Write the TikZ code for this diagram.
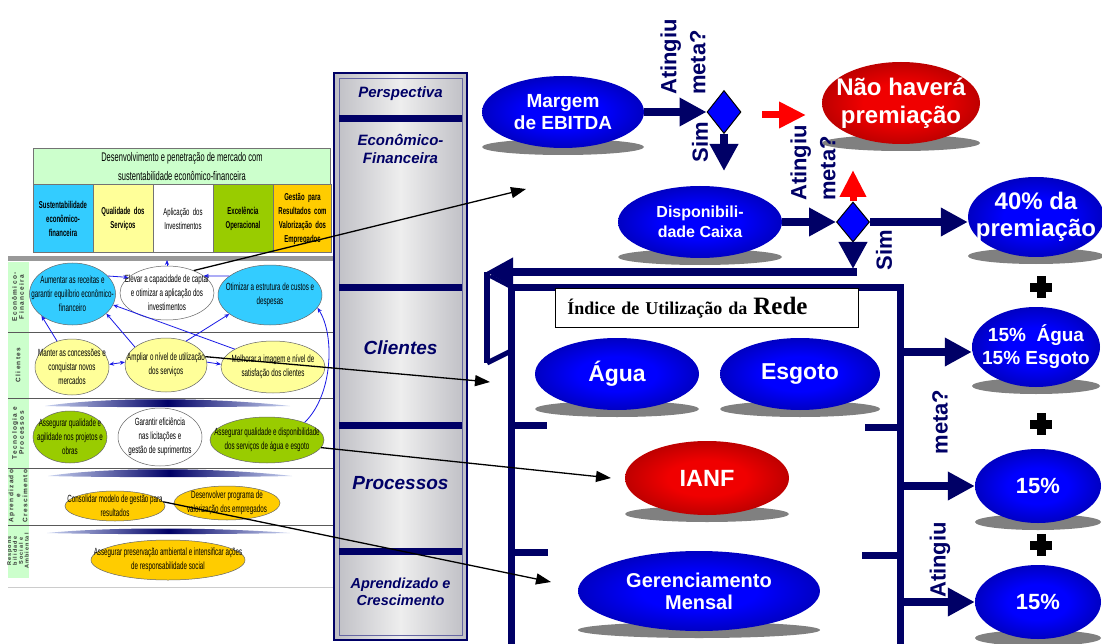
\documentclass[tikz,border=0pt]{standalone}
\usepackage{fontspec}
\setmainfont{Liberation Sans}
\newfontfamily\narrowsans{Liberation Sans}[FakeStretch=0.6]
\newfontfamily\spacedsans{Liberation Sans}[LetterSpace=20]
\newfontfamily\titleserif{Liberation Serif}
\usetikzlibrary{shapes.geometric,arrows.meta}

\definecolor{navy}{RGB}{0,0,102}
\definecolor{orbcore}{RGB}{0,0,255}
\definecolor{orbrim}{RGB}{0,0,80}
\definecolor{flamecore}{RGB}{240,0,0}
\definecolor{flamerim}{RGB}{95,0,0}
\definecolor{decblue}{RGB}{0,0,255}
\definecolor{cyanfill}{RGB}{51,204,255}
\definecolor{paleyellow}{RGB}{255,255,153}
\definecolor{leafgreen}{RGB}{153,204,0}
\definecolor{amber}{RGB}{255,204,0}
\definecolor{mint}{RGB}{204,255,204}
\definecolor{linkblue}{RGB}{25,25,230}
\definecolor{colface}{RGB}{238,238,238}
\definecolor{colshade}{RGB}{190,190,196}
\definecolor{wedgeend}{RGB}{200,210,240}

\pgfdeclareradialshading{blueglow}{\pgfpoint{0bp}{0bp}}{color(0bp)=(orbcore); color(12bp)=(orbcore); color(50bp)=(orbrim)}
\pgfdeclareradialshading{redglow}{\pgfpoint{0bp}{0bp}}{color(0bp)=(flamecore); color(12bp)=(flamecore); color(50bp)=(flamerim)}

% strategy-map objective: name, x, y, rx, ry, fill, text
\newcommand\goal[7]{%
  \node[goalshape, fill=#6, minimum width=2*#4, minimum height=2*#5] (#1) at (#2,#3) {};
  \node[goaltext] (#1-t) at (#1) {#7};}
% shaded indicator with floor shadow: name, x, y, rx, ry, style, font, text
\newcommand\orb[8]{%
  \fill[floorshade] (#2,#3+#5-1) ellipse [x radius=#4, y radius=8];
  \node[#6, minimum width=2*#4, minimum height=2*#5] (#1) at (#2,#3) {};
  \node[orbtext, font={\bfseries#7}] (#1-t) at (#1) {#8};}
% tapered band above a row: y, left x, right x, rise
\newcommand\wedgebar[4]{%
  \shade[left color=wedgeend, right color=wedgeend, middle color=navy]
    (#2,#1) .. controls (#2+60,#1-#4) and (#3-80,#1-#4) .. (#3,#1)
    .. controls (#3-80,#1+1.5) and (#2+60,#1+1.5) .. cycle;}
% bold plus sign
\newcommand\plusmark[2]{%
  \fill[black] (#1-11,#2-4.5) rectangle (#1+11,#2+4.5);
  \fill[black] (#1-4.5,#2-11) rectangle (#1+4.5,#2+11);}

\begin{document}
\begin{tikzpicture}[x=1pt,y=-1pt,
  goalshape/.style={ellipse, draw=black!60, line width=0.5pt, inner sep=0pt},
  goaltext/.style={font=\narrowsans\fontsize{10.4}{14}\selectfont, align=center, inner sep=0pt},
  mapbox/.style={draw=black!55, line width=0.5pt, inner xsep=2pt, inner ysep=0pt, align=center,
    font=\narrowsans\bfseries\fontsize{10}{14}\selectfont, minimum height=68, text width=56},
  rowlabel/.style={rotate=90, font=\spacedsans\bfseries\fontsize{6.5}{7}\selectfont, align=center,
    text=black!80, inner sep=0pt},
  link/.style={draw=linkblue, line width=0.8pt, >={Stealth[length=5pt,width=4pt]}, ->},
  linkboth/.style={link, <->},
  pointer/.style={draw=black, line width=1.3pt, -{Triangle[length=15pt,width=11pt]}},
  flowarrow/.style={draw=navy, line width=8pt, -{Triangle[length=27pt,width=27pt]}},
  nogoarrow/.style={draw=red, line width=7pt, -{Triangle[length=27pt,width=25pt]}},
  blueorb/.style={ellipse, inner sep=0pt, shading=blueglow},
  redorb/.style={ellipse, inner sep=0pt, shading=redglow},
  orbtext/.style={text=white, align=center, inner sep=0pt},
  decision/.style={diamond, draw=black, line width=1pt, fill=decblue, inner sep=0pt,
    minimum width=34, minimum height=43},
  question/.style={rotate=90, text=navy, font=\bfseries\fontsize{22}{29}\selectfont, align=left, inner sep=0pt},
  persp/.style={text=navy, align=center, inner sep=0pt},
  floorshade/.style={fill=black!50},
  frameline/.style={draw=navy, line width=7pt},
]
\useasboundingbox (0,0) rectangle (1102,644);
\fill[white] (0,0) rectangle (1102,644);

% ---------------- strategy map ----------------
\node[draw=black!55, line width=0.5pt, fill=mint, minimum width=297, minimum height=37, inner sep=0pt,
  font=\narrowsans\fontsize{12.5}{19}\selectfont, align=center] (mapheader) at (182,166.5)
  {Desenvolvimento e penetração de mercado com\\sustentabilidade econômico-financeira};
\node[mapbox, fill=cyanfill] (th1) at (63,218.5) {Sustentabilidade\\econômico-\\financeira};
\node[mapbox, fill=paleyellow] (th2) at (123,218.5) {Qualidade dos\\Serviços};
\node[mapbox, fill=white, font=\narrowsans\fontsize{10}{14}\selectfont] (th3) at (183,218.5) {Aplicação dos\\Investimentos};
\node[mapbox, fill=leafgreen] (th4) at (243,218.5) {Excelência\\Operacional};
\node[mapbox, fill=amber, text width=54] (th5) at (302.5,218.5) {Gestão para\\Resultados com\\Valorização dos\\Empregados};

\fill[black!40] (8,256) rectangle (333,261);
\fill[mint] (8,262) rectangle (29,578);
\foreach \yy in {332,398,468,525}
  \draw[black!65, line width=0.7pt] (8,\yy) -- (333,\yy);
\draw[black!20, line width=0.7pt] (8,587) -- (333,587);

\node[rowlabel] (rl1) at (18,297) {Econômico-\\Financeira};
\node[rowlabel] (rl2) at (18,365) {Clientes};
\node[rowlabel] (rl3) at (18,433) {Tecnologia e\\Processos};
\node[rowlabel] (rl4) at (18,496) {Aprendizado\\e\\Crescimento};
\node[rowlabel, font=\spacedsans\bfseries\fontsize{5.5}{5.8}\selectfont] (rl5) at (18,551)
  {Respons\\bilidade\\Social e\\Ambiental};

\wedgebar{406}{45}{290}{9}
\wedgebar{476}{48}{292}{9}
\wedgebar{533}{47}{290}{6}

\goal{e1}{72.5}{294}{43}{31}{cyanfill}{Aumentar as receitas e\\garantir equilíbrio econômico-\\financeiro}
\goal{e2}{167}{293}{47}{27}{white}{Elevar a capacidade de captar\\e otimizar a aplicação dos\\investimentos}
\goal{e3}{270}{295}{52}{30}{cyanfill}{Otimizar a estrutura de custos e\\despesas}
\goal{e4}{72}{367}{37}{28}{paleyellow}{Manter as concessões e\\conquistar novos\\mercados}
\goal{e5}{166}{365}{41}{27}{paleyellow}{Ampliar o nível de utilização\\dos serviços}
\goal{e6}{273}{367}{52}{26}{paleyellow}{Melhorar a imagem e nível de\\satisfação dos clientes}
\goal{e7}{70}{437}{37}{26}{leafgreen}{Assegurar qualidade e\\agilidade nos projetos e\\obras}
\goal{e8}{160}{437}{42}{29}{white}{Garantir eficiência\\nas licitações e\\gestão de suprimentos}
\goal{e9}{267}{440}{57}{23}{leafgreen}{Assegurar qualidade e disponibilidade\\dos serviços de água e esgoto}
\goal{e10}{115}{506}{50}{15}{amber}{Consolidar modelo de gestão para\\resultados}
\goal{e11}{227}{503}{53}{17}{amber}{Desenvolver programa de\\valorização dos empregados}
\goal{e12}{168}{560}{77}{20}{amber}{Assegurar preservação ambiental e intensificar ações\\de responsabilidade social}

\coordinate (bandtop) at (167,260);
\draw[link] (e1.27) -- (e2.158);
\draw[link] (e3.155) -- (e2.25);
\draw[link] (e2.north) -- (bandtop);
\draw[link] (e4.120) -- (e1.215);
\draw[link] (e5.150) -- (e1.330);
\draw[link] (e6.155) -- (e1.345);
\draw[link] (e5.50) -- (e3.205);
\draw[linkboth] (e4.4) -- (e5.176);
\draw[link] (e5.4) -- (e6.177);
\draw[link] (e9.25) .. controls (333,395) and (335,335) .. (e3.-15);

% ---------------- perspective column ----------------
\shade[left color=colshade, right color=colshade, middle color=colface] (334,73) rectangle (467,640);
\draw[navy, line width=1.5pt] (334,73) rectangle (467,640);
\draw[navy!60, line width=0.8pt] (339,78) rectangle (462,635);
\foreach \yy in {119,287,425,551}
  \fill[navy] (339,\yy-3.5) rectangle (462,\yy+3.5);
\node[persp, font=\bfseries\itshape\fontsize{15}{18}\selectfont] (pPersp) at (400.5,94) {Perspectiva};
\node[persp, font=\bfseries\itshape\fontsize{15}{18}\selectfont] (pEco) at (400.5,149) {Econômico-\\Financeira};
\node[persp, font=\bfseries\itshape\fontsize{19}{22}\selectfont] (pCli) at (400.5,348) {Clientes};
\node[persp, font=\bfseries\itshape\fontsize{19}{22}\selectfont] (pProc) at (400.5,483) {Processos};
\node[persp, font=\bfseries\itshape\fontsize{14.5}{17.5}\selectfont] (pApr) at (400.5,592) {Aprendizado e\\Crescimento};

% ---------------- award flow ----------------
\orb{margem}{563}{112}{81}{36}{blueorb}{\fontsize{19}{22}\selectfont}{Margem\\de EBITDA}
\orb{nopay}{901}{103}{79}{41}{redorb}{\fontsize{24}{28}\selectfont}{Não haverá\\premiação}
\orb{caixa}{700}{222}{82}{36}{blueorb}{\fontsize{16}{20}\selectfont}{Disponibili-\\dade Caixa}
\orb{forty}{1036}{217}{68}{40}{blueorb}{\fontsize{24}{27}\selectfont}{40\% da\\premiação}
\orb{aguaesg}{1036}{347}{64}{40}{blueorb}{\fontsize{19}{23}\selectfont}{15\%~~Água\\15\% Esgoto}
\orb{midfifteen}{1038}{486}{63}{37}{blueorb}{\fontsize{22}{24}\selectfont}{15\%}
\orb{lowfifteen}{1038}{602}{63}{37}{blueorb}{\fontsize{22}{24}\selectfont}{15\%}

\node[decision] (d1) at (724,112) {};
\node[decision, minimum width=33, minimum height=40] (d2) at (853,222) {};

\node[question] (q1) at (683,57) {Atingiu\\meta?};
\node[question] (q2) at (813,163) {Atingiu\\meta?};
\node[question] (sim1) at (700,142) {Sim};
\node[question] (sim2) at (884,250) {Sim};

\coordinate (d1low) at (724,171);
\coordinate (redA) at (762,115);
\coordinate (redB) at (806,115);
\coordinate (redUp) at (853,170);
\coordinate (d2low) at (853,269);
\coordinate (backR) at (857,272);
\coordinate (backL) at (486,272);

\draw[flowarrow] (margem.east) -- (d1.west);
\draw[flowarrow] (d1.south) -- (d1low);
\draw[nogoarrow] (redA) -- (redB);
\draw[nogoarrow] (d2.north) -- (redUp);
\draw[flowarrow] (caixa.east) -- (d2.west);
\draw[flowarrow] (d2.east) -- (d2.east -| forty.west);
\draw[flowarrow] (backR) -- (backL);
\draw[flowarrow] (d2.south) -- (d2low);

% return bracket and network-usage frame
\draw[navy, line width=6pt] (487,272) -- (487,363);
\draw[navy, line width=5pt] (487,363) -- (511,351);
\draw[navy, line width=4pt] (490,276) -- (511,287);
\draw[frameline, line join=miter] (511,644) -- (511,287) -- (900,287) -- (900,644);
\draw[frameline] (511,425) -- (547,425);
\draw[frameline] (511,552) -- (548,552);
\draw[frameline] (865,427) -- (900,427);
\draw[frameline] (862,555) -- (900,555);

\node[draw=black, line width=0.8pt, fill=white, anchor=west, text width=279, inner xsep=12pt, inner ysep=0pt,
  minimum height=39, align=left, font=\titleserif\bfseries\fontsize{18}{20}\selectfont] (ixbox) at (555,307.5)
  {Índice de Utilização da {\fontsize{25}{25}\selectfont Rede}};

\orb{agua}{617}{374}{82}{36}{blueorb}{\fontsize{23}{26}\selectfont}{Água}
\orb{esgoto}{800}{374}{80}{36}{blueorb}{\fontsize{23}{26}\selectfont}{Esgoto}
\orb{ianf}{707}{478}{82}{37}{redorb}{\fontsize{23.5}{26}\selectfont}{IANF}
\orb{gerencia}{699}{591}{121}{40}{blueorb}{\fontsize{20}{22}\selectfont}{Gerenciamento\\Mensal}

\coordinate (out1) at (900,352);
\coordinate (out2) at (900,486);
\coordinate (out3) at (900,602);
\draw[flowarrow] (out1) -- (out1 -| aguaesg.west);
\draw[flowarrow] (out2) -- (out2 -| midfifteen.west);
\draw[flowarrow] (out3) -- (out3 -| lowfifteen.west);

\node[question] (q3a) at (940,422) {meta?};
\node[question] (q3b) at (940,560) {Atingiu};

\plusmark{1041}{287}
\plusmark{1041}{424}
\plusmark{1041}{545}

% ---------------- pointers from the map ----------------
\coordinate (ecoTip) at (526,189);
\coordinate (cliTip) at (490,382);
\coordinate (ianfTip) at (611,478);
\coordinate (aprTip) at (551,582);
\draw[pointer] (e2.40) -- (ecoTip);
\draw[pointer] (e5.12) -- (cliTip);
\draw[pointer] (e9.-8) -- (ianfTip);
\draw[pointer] (e10.5) -- (aprTip);
\end{tikzpicture}
\end{document}
